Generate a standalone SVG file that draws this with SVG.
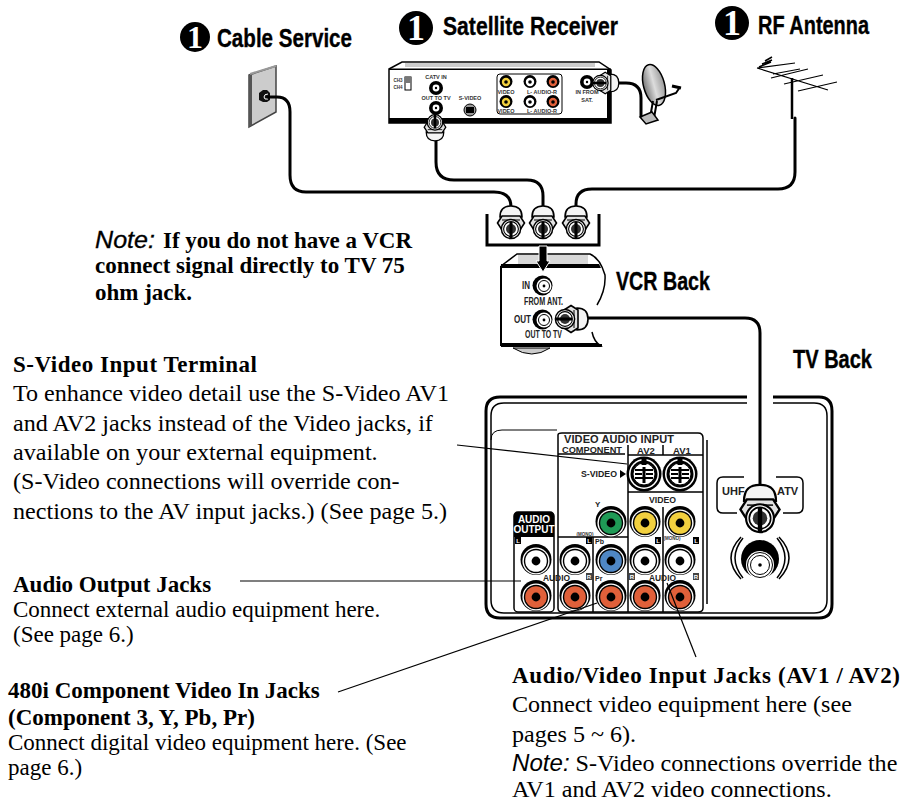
<svg xmlns="http://www.w3.org/2000/svg" width="902" height="802" viewBox="0 0 902 802">
<style>
text{font-family:"Liberation Sans",Arial,sans-serif;fill:#000}
.h{font-weight:700;font-size:25px;stroke:#000;stroke-width:.35}
.s{font-family:"Liberation Serif","Times New Roman",serif;font-size:24.1px}
.s2{font-family:"Liberation Serif","Times New Roman",serif;font-size:23px}
.b{font-family:"Liberation Serif","Times New Roman",serif;font-size:23px;font-weight:700}
.i{font-family:"Liberation Sans",Arial,sans-serif;font-style:italic;font-weight:400}
.num{font-family:"Liberation Serif",serif;font-weight:700;font-size:36px;fill:#fff;text-anchor:middle}
.t{font-weight:700;font-size:10px;fill:#222}
.m{font-weight:700;font-size:5.5px;fill:#333;text-anchor:middle}
.tv{font-weight:700;font-size:9.5px;fill:#222}
.w{fill:#fff;font-weight:700;font-size:6px;text-anchor:middle}
.cable{fill:none;stroke:#000;stroke-width:3;stroke-linecap:round}
.leader{fill:none;stroke:#000;stroke-width:1.2}
.ln{fill:none;stroke:#000;stroke-width:1.5}
</style>
<defs>
<linearGradient id="gf" x1="0" x2="1" y1="0" y2="0"><stop offset="0" stop-color="#777"/><stop offset=".5" stop-color="#ddd"/><stop offset="1" stop-color="#999"/></linearGradient>
<g id="rca"><circle cy="-1.5" r="15.5" fill="#000"/><circle r="13.6" fill="#fff"/><circle r="12.2" fill="#000"/><circle r="10.8"/><circle r="4.4" fill="#000"/></g>
<g id="rcas"><circle cy="-.5" r="6.5" fill="#000"/><circle r="4.2"/><circle r="1.8" fill="#000"/></g>
<g id="coaxj"><circle r="7" fill="#000"/><circle r="3.4" fill="#fff"/><circle r="1.2" fill="#000"/></g>
<g id="big"><circle cx="-.5" cy="-.5" r="10" fill="#000"/><circle cx="1" r="7.5" fill="#fff"/><circle cx="1" r="5.5" fill="none" stroke="#000"/><circle cx="1" r="1.4" fill="#000"/></g>
<g id="sv"><circle r="17.5" fill="#000"/><circle r="15" fill="#fff"/><circle r="13.5" fill="#000"/><circle r="11" fill="#fff" stroke="#000"/><rect x="-2.5" y="-15" width="5" height="6" fill="#000"/><path d="M-9-4H9M-9 4H9M-9 0H-2M2 0H9" stroke="#000" stroke-width="2"/><rect x="-1.5" y="-7" width="3" height="16" fill="#000"/></g>
<g id="plug">
<path d="M-11-5C-11-14-6-16 0-16S11-14 11-5Z" fill="#f4f4f4" stroke="#000" stroke-width="1.6"/>
<path d="M-13.5 1-9-6H9L13.5 1 9 8H-9Z" fill="#e2e2e2" stroke="#000" stroke-width="1.6"/>
<path d="M-9-2H9" stroke="#000"/>
<circle cy="7" r="9.6" fill="#fff" stroke="#000" stroke-width="1.5"/>
<circle cy="7" r="7.4" fill="none" stroke="#000" stroke-width="1.1"/>
<circle cy="7" r="5" fill="#333"/>
<rect x="-1.5" y="0" width="3" height="16.5" fill="#000"/>
</g>
</defs>

<g id="tv-back">
<path fill="#fff" stroke="#000" stroke-width="3" d="M747 397H500Q486 397 486 411V604Q486 618 500 618H819Q832 618 832 604V411Q832 397 819 397H773"/>
<path class="ln" d="M747 403H504Q491 403 491 416V600Q491 613 504 613H814Q827 613 827 600V416Q827 403 814 403H773"/>
<path fill="none" stroke="#000" d="M491 440Q491 430 502 430H557"/>
<path d="M558 440V435Q558 433 562 433H698Q703 433 703 438V608Q703 612 698 612H562Q558 612 558 608V440" fill="#fff" stroke="#000" stroke-width="1.5"/>
<path class="ln" d="M707 440V604"/>
<path class="ln" d="M558 454H625M628 455H703M628 445V612M663 445V455M663 507V612M593 537V612M558 537H628M628 492H703"/>
<rect x="514" y="512" width="40" height="100" rx="4" fill="#fff" stroke="#000" stroke-width="1.5"/>
<path d="M514 537V516Q514 512 518 512H550Q554 512 554 516V537Z" fill="#000"/>
<text class="w" style="font-size:10px" x="534" y="523">AUDIO</text>
<text class="w" style="font-size:10px" x="534" y="533">OUTPUT</text>
<text class="tv" style="font-size:11px" x="564" y="442.5" textLength="110" lengthAdjust="spacing">VIDEO AUDIO INPUT</text>
<text class="tv" x="562" y="452.5" textLength="60" lengthAdjust="spacingAndGlyphs">COMPONENT</text>
<text class="tv" x="637" y="453.5">AV2</text>
<text class="tv" x="673" y="453.5">AV1</text>
<text class="tv" style="font-size:9px" x="581" y="477" textLength="36" lengthAdjust="spacingAndGlyphs">S-VIDEO</text>
<path d="M620 470 626 474 620 478Z" fill="#000"/>
<text class="tv" style="font-size:9px" x="649" y="503" textLength="27" lengthAdjust="spacingAndGlyphs">VIDEO</text>
<text class="tv" style="font-size:9px" x="543" y="581" textLength="27" lengthAdjust="spacingAndGlyphs">AUDIO</text>
<text class="tv" style="font-size:9px" x="649" y="581" textLength="27" lengthAdjust="spacingAndGlyphs">AUDIO</text>
<text class="tv" style="font-size:8px" x="595" y="507">Y</text>
<text class="tv" style="font-size:7px" x="595" y="544">Pb</text>
<text class="tv" style="font-size:7px" x="595" y="581">Pr</text>
<text class="m" style="font-size:4.5px" x="585" y="536">(MONO)</text>
<text class="m" style="font-size:4.5px" x="672" y="540">(MONO)</text>
<g>
<rect x="515" y="537" width="6" height="7" fill="#000"/><text class="w" x="518" y="543">L</text>
<rect x="586" y="537" width="6" height="7" fill="#000"/><text class="w" x="589" y="543">L</text>
<rect x="655" y="537" width="6" height="7" fill="#000"/><text class="w" x="658" y="543">L</text>
<rect x="693" y="537" width="6" height="7" fill="#000"/><text class="w" x="696" y="543">L</text>
<rect x="586" y="573" width="6" height="7" fill="#444"/><text class="w" x="589" y="579">R</text>
<rect x="629" y="573" width="6" height="7" fill="#444"/><text class="w" x="632" y="579">R</text>
<rect x="693" y="573" width="6" height="7" fill="#444"/><text class="w" x="696" y="579">R</text>
</g>
<use href="#sv" x="644" y="474"/><use href="#sv" x="680" y="474"/>
<use href="#rca" x="611" y="523" fill="#1f9a56"/><use href="#rca" x="645" y="523" fill="#f2d03f"/><use href="#rca" x="680" y="523" fill="#f2d03f"/>
<use href="#rca" x="536" y="561" fill="#fff"/><use href="#rca" x="575" y="561" fill="#fff"/><use href="#rca" x="611" y="561" fill="#4f87c4"/><use href="#rca" x="645" y="561" fill="#fff"/><use href="#rca" x="680" y="561" fill="#fff"/>
<use href="#rca" x="536" y="597" fill="#e0603a"/><use href="#rca" x="575" y="597" fill="#e0603a"/><use href="#rca" x="611" y="597" fill="#e0603a"/><use href="#rca" x="645" y="597" fill="#e0603a"/><use href="#rca" x="680" y="597" fill="#e0603a"/>
<path d="M744 477H723Q717 477 717 483V507Q717 513 723 513H737M776 477H797Q803 477 803 483V507Q803 513 797 513H783" class="ln"/>
<text class="tv" style="font-size:11px" x="722" y="495">UHF</text>
<text class="tv" style="font-size:11px" x="777" y="495">ATV</text>
<circle cx="760" cy="559" r="19" fill="#000"/><circle cx="760" cy="565" r="14" fill="#fff"/><circle cx="760" cy="565" r="12.5" fill="none" stroke="#000"/><circle cx="760" cy="565" r="9.5" fill="none" stroke="#000"/><circle cx="760" cy="565" r="1.8" fill="#000"/>
<path class="ln" d="M741 537Q721 558 741 579M743 538Q727 558 743 578M779 537Q799 558 779 579M777 538Q793 558 777 578"/>
</g>

<g id="vcr-back">
<path d="M501 266 517 254H590Q600 258 605 275 606 290 597 305" fill="#fff" stroke="#000" stroke-width="1.5"/>
<path d="M601 300H612V322H601Z" fill="#fff"/>
<rect x="518" y="255" width="70" height="9" fill="#d8d8d8"/>
<path d="M501 266V345H602" fill="none" stroke="#000" stroke-width="2"/>
<path d="M501 264H599L601 268H501Z" fill="#000"/>
<path d="M501 343H597L603 347H501Z" fill="#000"/>
<path d="M592 332Q594 342 601 346" fill="none" stroke="#000" stroke-width="1.5"/>
<path d="M513 348Q532 360 550 348Z" fill="#ccc" stroke="#000"/>
<use href="#big" x="543" y="286"/><use href="#big" x="543" y="320"/>
<text class="t" x="522" y="289" textLength="8" lengthAdjust="spacingAndGlyphs">IN</text>
<text class="t" x="524" y="305" textLength="39" lengthAdjust="spacingAndGlyphs">FROM ANT.</text>
<text class="t" x="514" y="323" textLength="17" lengthAdjust="spacingAndGlyphs">OUT</text>
<text class="t" x="525" y="338" textLength="37" lengthAdjust="spacingAndGlyphs">OUT TO TV</text>
<text class="h" x="616" y="290" textLength="94" lengthAdjust="spacingAndGlyphs">VCR Back</text>
</g>

<g id="splitter">
<path d="M487 214V245H599V214" fill="none" stroke="#000" stroke-width="3"/>
<path d="M539 246V261H536L543 272 550 261H547V246Z" fill="#000" stroke="#fff"/>
</g>

<g id="cable-service">
<circle cx="195" cy="37" r="15" fill="#000"/><text class="num" style="font-size:32px" x="195" y="48">1</text>
<text class="h" x="217" y="47" textLength="135" lengthAdjust="spacingAndGlyphs">Cable Service</text>
<path d="M249 75 276 66V112L249 127Z" fill="#ccc" stroke="#444" stroke-width="1.5"/>
<path d="M249 75V127L252 125V74Z" fill="#555"/>
<path d="M250 74 276 66" stroke="#999" stroke-width="2"/>
<path d="M259 93 263 90H267L270 93V100L267 102H263L259 100Z" fill="#111"/>
<path d="M268 94Q264 94 264 97T268 99" fill="none" stroke="#fff"/>
</g>

<g id="satellite-receiver">
<circle cx="416" cy="28" r="17" fill="#000"/><text class="num" x="416" y="40">1</text>
<text class="h" x="443" y="35" textLength="175" lengthAdjust="spacingAndGlyphs">Satellite Receiver</text>
<path d="M389 69 402 62H599L611 70V123H389Z" fill="#fff" stroke="#000" stroke-width="1.5"/>
<rect x="405" y="63" width="190" height="4" fill="#ccc"/>
<rect x="389" y="118" width="222" height="5" fill="#000"/><rect x="607" y="70" width="4" height="50" fill="#000"/><rect x="389" y="68.500" width="222" height="1.5" fill="#000"/>
<rect x="405" y="77" width="6" height="13" fill="#fff" stroke="#000"/><rect x="405" y="77" width="6" height="6" fill="#777"/>
<text class="m" style="font-size:4.5px" x="398" y="82">CH3</text><text class="m" style="font-size:4.5px" x="398" y="89">CH4</text>
<text class="m" x="436" y="79">CATV IN</text><text class="m" x="436" y="100">OUT TO TV</text><text class="m" x="470" y="100">S-VIDEO</text>
<use href="#coaxj" x="436" y="88"/><use href="#coaxj" x="436" y="108"/>
<circle cx="470" cy="110" r="6" fill="#999" stroke="#000"/><rect x="466" y="107" width="8" height="6" fill="#000"/>
<rect x="497" y="74" width="65" height="40" rx="3" fill="#fff" stroke="#000"/>
<use href="#rcas" x="506" y="82" fill="#f2d03f"/><use href="#rcas" x="506" y="102" fill="#f2d03f"/><use href="#rcas" x="530" y="82" fill="#fff"/><use href="#rcas" x="530" y="102" fill="#fff"/><use href="#rcas" x="553" y="82" fill="#e0603a"/><use href="#rcas" x="553" y="102" fill="#e0603a"/>
<text class="m" x="506" y="94">VIDEO</text><text class="m" x="506" y="113">VIDEO</text><text class="m" x="542" y="94">L- AUDIO-R</text><text class="m" x="542" y="113">L- AUDIO-R</text>
<use href="#coaxj" x="587" y="82"/><text class="m" x="587" y="94">IN FROM</text><text class="m" x="587" y="102">SAT.</text>
<ellipse cx="654" cy="85" rx="10.5" ry="21" transform="rotate(-15 654 85)" fill="url(#gf)" stroke="#000" stroke-width="1.5"/>
<path d="M653 101 650 118M657 101 654 118M656 100 676 93 680 87" fill="none" stroke="#000" stroke-width="2"/>
<path d="M672 86 681 88" stroke="#000" stroke-width="3"/>
<path d="M640 117 652 112 658 120 646 124Z" fill="#bbb" stroke="#000" stroke-width="1.5"/>
</g>

<g id="rf-antenna">
<circle cx="732" cy="23" r="17" fill="#000"/><text class="num" x="732" y="35">1</text>
<text class="h" x="758" y="34" textLength="111" lengthAdjust="spacingAndGlyphs">RF Antenna</text>
<path d="M792 78V119" stroke="#000" stroke-width="2.500"/>
<path d="M757 68 828 90M757 68 795 63M771 78 808 69M784 84 823 75M798 91 837 82M773 74 800 69" stroke="#000" stroke-width="1.2" fill="none"/>
<path d="M759 67 771 62M762 64 772 60M765 61 772 57" stroke="#000" stroke-width="1.5"/>
</g>

<g id="connectors">
<path class="cable" d="M268 97H277Q290 97 290 112V175Q290 192 306 192H494Q511 192 511 207"/>
<path class="cable" d="M436 136V162Q436 180 454 180H527Q543 180 543 196V208"/>
<path class="cable" d="M576 207V204Q576 189 592 189H778Q795 189 795 172V118"/>
<path class="cable" d="M616 83H626Q641 83 641 98V116"/>
<path class="cable" d="M586 318H745Q760 318 760 333V490"/>
<path class="leader" d="M457 445 627 464"/>
<path class="leader" d="M240 581H521"/>
<path class="leader" d="M338 692 597 603"/>
<path class="leader" d="M667 583 696 657"/>
</g>

<g id="plugs">
<use href="#plug" transform="translate(511 222)"/><use href="#plug" transform="translate(543 222)"/><use href="#plug" transform="translate(576 222)"/>
<use href="#plug" transform="translate(572 319) rotate(90)"/>
<use href="#plug" transform="translate(760 508) scale(1.45)"/>
<use href="#plug" transform="translate(435 128) rotate(180) scale(.8)"/>
<use href="#plug" transform="translate(606 83) rotate(90) scale(.8)"/>
</g>

<g id="notes">
<text class="b i" style="stroke:#000;stroke-width:.3" x="95" y="248" textLength="60" lengthAdjust="spacingAndGlyphs">Note:</text>
<text class="b" x="163" y="248" textLength="249">If you do not have a VCR</text>
<text class="b" x="95" y="273">connect signal directly to TV 75</text>
<text class="b" x="95" y="300">ohm jack.</text>
<text class="h" x="793" y="368" textLength="79" lengthAdjust="spacingAndGlyphs">TV Back</text>
<text class="b" x="13" y="372" textLength="244">S-Video Input Terminal</text>
<text class="s" x="13" y="401">To enhance video detail use the S-Video AV1</text>
<text class="s" x="13" y="431">and AV2 jacks instead of the Video jacks, if</text>
<text class="s" x="13" y="460">available on your external equipment.</text>
<text class="s" x="13" y="489">(S-Video connections will override con-</text>
<text class="s" x="13" y="519">nections to the AV input jacks.) (See page 5.)</text>
<text class="b" x="13" y="592">Audio Output Jacks</text>
<text class="s2" x="13" y="617">Connect external audio equipment here.</text>
<text class="s2" x="13" y="642">(See page 6.)</text>
<text class="b" x="8" y="698">480i Component Video In Jacks</text>
<text class="b" x="8" y="725">(Component 3, Y, Pb, Pr)</text>
<text class="s2" x="8" y="750">Connect digital video equipment here. (See</text>
<text class="s2" x="8" y="775">page 6.)</text>
<text class="b" x="512" y="683" textLength="388">Audio/Video Input Jacks (AV1 / AV2)</text>
<text class="s" x="512" y="712">Connect video equipment here (see</text>
<text class="s" x="512" y="742">pages 5 ~ 6).</text>
<text class="s" x="512" y="771"><tspan class="i">Note:</tspan> S-Video connections override the</text>
<text class="s" x="512" y="796.500">AV1 and AV2 video connections.</text>
</g>
</svg>
